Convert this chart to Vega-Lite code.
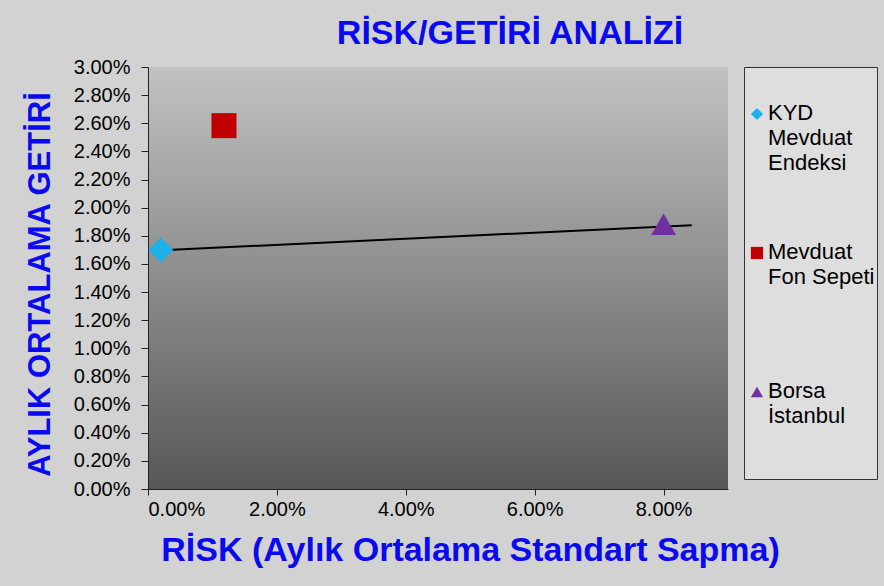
{
  "$schema": "https://vega.github.io/schema/vega-lite/v6.json",
  "width": 580,
  "height": 422,
  "autosize": {"type": "none"},
  "padding": {"left": 148, "top": 67, "right": 156, "bottom": 97},
  "background": "#d2d2d2",
  "title": {
    "text": "RİSK/GETİRİ ANALİZİ",
    "font": "Liberation Sans",
    "fontSize": 34,
    "fontWeight": "bold",
    "color": "#0a0af0",
    "anchor": "middle",
    "frame": "group",
    "dx": 72,
    "dy": 43,
    "offset": 22,
    "baseline": "alphabetic"
  },
  "config": {
    "style": {"guide-label": {"dy": -11, "lineHeight": 25}},
    "view": {
      "stroke": null,
      "fill": {
        "gradient": "linear",
        "x1": 0, "y1": 0, "x2": 0, "y2": 1,
        "stops": [
          {"offset": 0, "color": "#c2c2c2"},
          {"offset": 1, "color": "#575757"}
        ]
      }
    },
    "axis": {
      "grid": false,
      "domainColor": "#222222",
      "tickColor": "#222222",
      "labelColor": "#000000",
      "labelFont": "Liberation Sans",
      "labelFontSize": 20,
      "labelOverlap": false,
      "titleFont": "Liberation Sans",
      "titleFontWeight": "bold",
      "titleColor": "#0a0af0",
      "titleFontSize": 32
    }
  },
  "datasets": {
    "points": [
      {"seri": "KYD Mevduat Endeksi", "risk": 0.00197, "getiri": 0.01699},
      {"seri": "Mevduat Fon Sepeti", "risk": 0.01179, "getiri": 0.02583},
      {"seri": "Borsa İstanbul", "risk": 0.0800, "getiri": 0.01882}
    ],
    "trend": [
      {"risk": 0.00135, "getiri": 0.01695},
      {"risk": 0.08437, "getiri": 0.01875}
    ]
  },
  "encoding": {
    "x": {
      "field": "risk",
      "type": "quantitative",
      "scale": {"domain": [0, 0.09], "nice": false},
      "axis": {
        "values": [0, 0.02, 0.04, 0.06, 0.08],
        "format": ".2%",
        "tickSize": 6,
        "labelPadding": 15,
        "labelOverlap": false,
        "title": "RİSK (Aylık Ortalama Standart Sapma)",
        "titleX": 322,
        "titleY": 61,
        "titleBaseline": "middle",
        "titleFontSize": 34
      }
    },
    "y": {
      "field": "getiri",
      "type": "quantitative",
      "scale": {"domain": [0, 0.03], "nice": false},
      "axis": {
        "values": [0, 0.002, 0.004, 0.006, 0.008, 0.01, 0.012, 0.014, 0.016, 0.018, 0.02, 0.022, 0.024, 0.026, 0.028, 0.03],
        "format": ".2%",
        "tickSize": 7,
        "labelPadding": 11,
        "labelOffset": 11,
        "labelOverlap": false,
        "title": "AYLIK ORTALAMA GETİRİ",
        "titleX": -108,
        "titleY": 217,
        "titleAngle": -90,
        "titleBaseline": "middle",
        "titleFontSize": 31
      }
    }
  },
  "layer": [
    {
      "data": {"name": "trend"},
      "mark": {"type": "line", "color": "#000000", "strokeWidth": 2}
    },
    {
      "data": {"name": "points"},
      "mark": {"type": "point", "filled": true, "opacity": 1, "size": 625},
      "encoding": {
        "shape": {
          "field": "seri",
          "type": "nominal",
          "scale": {
            "domain": ["KYD Mevduat Endeksi", "Mevduat Fon Sepeti", "Borsa İstanbul"],
            "range": ["diamond", "square", "triangle-up"]
          },
          "legend": {
            "orient": "none",
            "legendX": 596,
            "legendY": 0,
            "title": " ",
            "titleFontSize": 18,
            "titlePadding": 16,
            "padding": 2,
            "fillColor": "#dedede",
            "strokeColor": "#333333",
            "symbolSize": 150,
            "labelFont": "Liberation Sans",
            "labelFontSize": 22,
            "labelColor": "#000000",
            "labelBaseline": "top",
            "rowPadding": 67,
            "labelOffset": 0,
            "labelLimit": 200,
            "labelExpr": "datum.label == 'KYD Mevduat Endeksi' ? ['KYD', 'Mevduat', 'Endeksi'] : datum.label == 'Mevduat Fon Sepeti' ? ['Mevduat', 'Fon Sepeti', ''] : ['Borsa', 'İstanbul', '', '']"
          }
        },
        "color": {
          "field": "seri",
          "type": "nominal",
          "scale": {
            "domain": ["KYD Mevduat Endeksi", "Mevduat Fon Sepeti", "Borsa İstanbul"],
            "range": ["#1eb0ea", "#c00000", "#7030a0"]
          }
        }
      }
    }
  ]
}
